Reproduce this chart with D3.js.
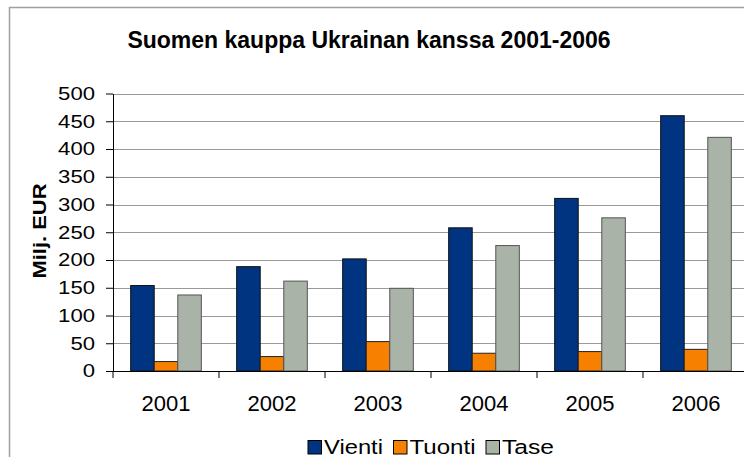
<!DOCTYPE html>
<html>
<head>
<meta charset="utf-8">
<script src="https://cdn.jsdelivr.net/npm/d3@7"></script>
<style>
  body { margin: 0; background: #fff; }
  svg { display: block; font-family: "Liberation Sans", Arial, sans-serif; }
</style>
</head>
<body>
<svg id="chart" width="744" height="457"></svg>
<script>
// data
var years = ["2001", "2002", "2003", "2004", "2005", "2006"];
var series = ["Vienti", "Tuonti", "Tase"];
var vienti = [154, 188, 202, 258, 311, 460];
var tuonti = [17, 26, 53, 32, 35, 39];
var tase = [137, 162, 149, 226, 276, 421];
var yticks = [0, 50, 100, 150, 200, 250, 300, 350, 400, 450, 500];

var colors = { Vienti: "#003380", Tuonti: "#f88000", Tase: "#a9b3a7" };
var strokes = { Vienti: "#111", Tuonti: "#222", Tase: "#555" };

var svg = d3.select("#chart");
var values = { Vienti: vienti, Tuonti: tuonti, Tase: tase };

// cadre de la zone du graphique (coupé à droite et en bas)
svg.append("path")
  .attr("d", "M9.5,457 L9.5,7.5 L744,7.5")
  .attr("fill", "none")
  .attr("stroke", "#a0a0a0")
  .attr("stroke-width", 1.5)

var pleft = 113, pright = 749, ptop = 93.5, pbottom = 371;

var x = d3.scaleBand().domain(years).range([pleft, pright]);
var bw = x.bandwidth() / 4.5;
var xs = d3.scaleBand().domain(series).range([0.75 * bw, 3.75 * bw]);
var y = d3.scaleLinear().domain([0, 500]).range([pbottom, ptop]);

// gridlines
svg.append("g").selectAll("line")
  .data(yticks.slice(1))
  .join("line")
  .attr("x1", pleft)
  .attr("x2", 744)
  .attr("y1", function (d) { return Math.round(y(d)) + 0.5; })
  .attr("y2", function (d) { return Math.round(y(d)) + 0.5; })
  .attr("stroke", "#9a9a9a")
  .attr("stroke-width", 1.2)

// bars
series.forEach(function (s) {
  svg.append("g").selectAll("rect")
    .data(years)
    .join("rect")
    .attr("x", function (d) { return x(d) + xs(s); })
    .attr("y", function (d, i) { return y(values[s][i]); })
    .attr("width", xs.bandwidth())
    .attr("height", function (d, i) { return pbottom - y(values[s][i]); })
    .attr("fill", colors[s])
    .attr("stroke", strokes[s])
    .attr("stroke-width", 1)
});

// y axis (les chiffres sont un peu étirés en largeur dans l'original)
var yAxis = svg.append("g")
  .attr("transform", "translate(" + pleft + ",0)")
  .call(d3.axisLeft(y).tickValues(yticks).tickSize(7).tickPadding(11).tickSizeOuter(0))
yAxis.select(".domain").attr("stroke", "#000")
yAxis.selectAll(".tick line").attr("stroke", "#000")
yAxis.selectAll("text")
  .attr("font-size", "18.5px")
  .attr("fill", "#000")
  .attr("font-family", "Liberation Sans, Arial, sans-serif")
  .attr("textLength", function (d) { return 12.3 * String(d).length; })
  .attr("lengthAdjust", "spacingAndGlyphs")

// x axis
var xAxis = svg.append("g")
  .attr("transform", "translate(0," + pbottom + ")")
svg.append("line")
  .attr("x1", pleft).attr("x2", 744)
  .attr("y1", pbottom + 0.5).attr("y2", pbottom + 0.5)
  .attr("stroke", "#000")
xAxis.selectAll("line.tk")
  .data(years.concat(["end"]))
  .join("line")
  .attr("class", "tk")
  .attr("x1", function (d, i) { return pleft + i * x.step(); })
  .attr("x2", function (d, i) { return pleft + i * x.step(); })
  .attr("y1", 0)
  .attr("y2", 7)
  .attr("stroke", "#000")
xAxis.selectAll("text")
  .data(years)
  .join("text")
  .attr("x", function (d) { return x(d) + x.bandwidth() / 2; })
  .attr("y", 40)
  .attr("text-anchor", "middle")
  .attr("font-size", "22px")
  .text(function (d) { return d; })

// title
svg.append("text")
  .attr("x", 369)
  .attr("y", 48)
  .attr("text-anchor", "middle")
  .attr("font-size", "23px")
  .attr("font-weight", "bold")
  .text("Suomen kauppa Ukrainan kanssa 2001-2006")

// y axis title
svg.append("text")
  .attr("transform", "translate(46,231) rotate(-90)")
  .attr("text-anchor", "middle")
  .attr("font-size", "18px")
  .attr("font-weight", "bold")
  .attr("textLength", 95)
  .attr("lengthAdjust", "spacingAndGlyphs")
  .text("Milj. EUR")

// legend
var legX = [308, 393.5, 486];
var legW = [59, 66, 52];
var leg = svg.append("g");
series.forEach(function (s, i) {
  leg.append("rect")
    .attr("x", legX[i])
    .attr("y", 440.5)
    .attr("width", 13.5)
    .attr("height", 13.5)
    .attr("fill", colors[s])
    .attr("stroke", "#000")
  leg.append("text")
    .attr("x", legX[i] + 16)
    .attr("y", 454)
    .attr("font-size", "20.5px")
    .attr("textLength", legW[i])
    .attr("lengthAdjust", "spacingAndGlyphs")
    .text(s)
});
</script>
</body>
</html>
